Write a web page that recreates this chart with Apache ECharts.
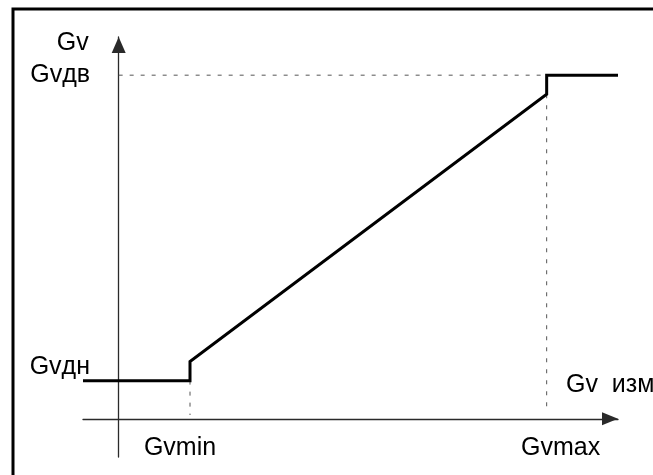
<!DOCTYPE html>
<html>
<head>
<meta charset="utf-8">
<script src="https://cdn.jsdelivr.net/npm/echarts@6/dist/echarts.min.js"></script>
<style>
  html, body { margin: 0; padding: 0; background: #fff; }
  #chart { width: 653px; height: 475px; }
</style>
</head>
<body>
<div id="chart"></div>
<script>
  // axis ranges (data units)
  const xRange = [-0.5, 7]
  const yRange = [-1, 10]

  // tick positions and their labels
  const xTicks = [1, 6]
  const xTickLabels = ['Gvmin', 'Gvmax']
  const yTicks = [1, 9]
  const yTickLabels = ['Gvдн', 'Gvдв']

  // characteristic Gv = f(Gv изм)
  const gvCurve = [[-0.5, 1], [1, 1], [1, 1.5], [6, 8.5], [6, 9], [7, 9]]

  // dashed guide lines
  const guideTop = [[0, 9], [6, 9]]
  const guideMax = [[6, 8.5], [6, 0.15]]
  const guideMin = [[1, 1], [1, 0.1]]

  const font = 'Liberation Sans, Arial, sans-serif'
  const fs = 25
  const axisColor = '#2a2a2a'
  const dashStyle = { color: '#555', width: 1, type: [4, 7] }

  let myChart = echarts.init(document.getElementById('chart'))

  myChart.setOption({
    animation: false,
    grid: {
      left: 83,
      right: 35,
      top: 37,
      bottom: 18,
      containLabel: false,
      outerBoundsMode: 'none'
    },
    graphic: [
      {
        type: 'rect',
        shape: { x: 13, y: 9, width: 700, height: 520 },
        style: { fill: 'none', stroke: '#000', lineWidth: 3 },
        z: 100
      }
    ],
    xAxis: {
      type: 'value',
      min: xRange[0],
      max: xRange[1],
      name: 'Gv  изм',
      nameLocation: 'end',
      nameGap: -52,
      nameTextStyle: {
        color: '#000',
        fontFamily: font,
        fontSize: fs,
        align: 'left',
        verticalAlign: 'bottom',
        padding: [0, 0, 21, 0]
      },
      axisLine: {
        onZero: true,
        lineStyle: { color: axisColor, width: 1.3 },
        symbol: ['none', 'triangle'],
        symbolSize: [13, 16],
        symbolOffset: [0, -8]
      },
      axisTick: { show: false },
      splitLine: { show: false },
      axisLabel: {
        customValues: xTicks,
        margin: -21,
        color: '#000',
        fontFamily: font,
        fontSize: fs,
        formatter: function (v) {
          let i = xTicks.indexOf(v)
          if (i < 0) return ''
          return i === 0 ? '{a|' + xTickLabels[i] + '}' : '{b|' + xTickLabels[i] + '}'
        },
        rich: {
          a: { fontSize: fs, fontFamily: font, color: '#000', padding: [0, 20, 0, 0] },
          b: { fontSize: fs, fontFamily: font, color: '#000', padding: [0, 0, 0, 28] }
        }
      }
    },
    yAxis: {
      type: 'value',
      min: yRange[0],
      max: yRange[1],
      name: 'Gv',
      nameLocation: 'end',
      nameGap: -6,
      nameTextStyle: {
        color: '#000',
        fontFamily: font,
        fontSize: fs,
        align: 'right',
        verticalAlign: 'middle',
        padding: [0, 30, 0, 0]
      },
      axisLine: {
        onZero: true,
        lineStyle: { color: axisColor, width: 1.3 },
        symbol: ['none', 'triangle'],
        symbolSize: [14, 16],
        symbolOffset: [0, -8]
      },
      axisTick: { show: false },
      splitLine: { show: false },
      axisLabel: {
        customValues: yTicks,
        margin: -7,
        color: '#000',
        fontFamily: font,
        fontSize: fs,
        formatter: function (v) {
          let i = yTicks.indexOf(v)
          if (i < 0) return ''
          return i === 0 ? '{lo|' + yTickLabels[i] + '}' : yTickLabels[i]
        },
        rich: {
          lo: { fontSize: fs, fontFamily: font, color: '#000', padding: [0, 0, 28, 0] }
        }
      }
    },
    series: [
      {
        type: 'line',
        data: guideTop,
        symbol: 'none',
        lineStyle: dashStyle,
        silent: true
      },
      {
        type: 'line',
        data: guideMax,
        symbol: 'none',
        lineStyle: dashStyle,
        silent: true
      },
      {
        type: 'line',
        data: guideMin,
        symbol: 'none',
        lineStyle: dashStyle,
        silent: true
      },
      {
        name: 'Gv',
        type: 'line',
        data: gvCurve,
        symbol: 'none',
        clip: false,
        lineStyle: { color: '#000', width: 3, join: 'miter', cap: 'butt' }
      }
    ]
  })
</script>
</body>
</html>
